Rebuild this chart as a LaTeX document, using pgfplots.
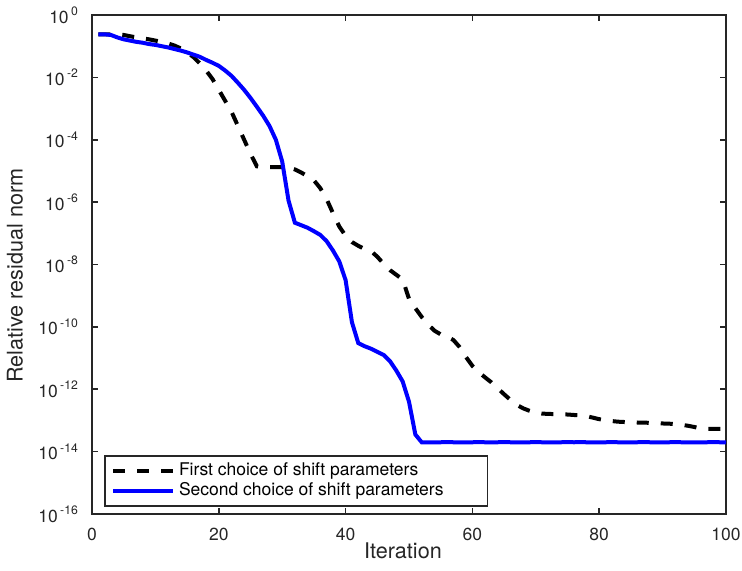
\documentclass[border=0pt]{standalone}
\usepackage{fontspec}
\setmainfont{TeX Gyre Heros}
\usepackage{pgfplots}
\pgfplotsset{compat=1.18}
\usetikzlibrary{calc}
\definecolor{axgray}{gray}{0.15}
\newcommand{\tickfont}{\fontsize{8.75}{10}\selectfont}
\newcommand{\labfont}{\fontsize{10.8}{12}\selectfont}

\begin{document}
\begin{tikzpicture}
\begin{axis}[
    name=ax,
    ymode=log,
    scale only axis,
    width=317pt, height=249.5pt,
    xmin=0, xmax=100,
    ymin=1e-16, ymax=1,
    xtick={0,20,40,60,80,100},
    ytick={1e-16,1e-14,1e-12,1e-10,1e-8,1e-6,1e-4,1e-2,1},
    yminorticks=false,
    /pgf/number format/assume math mode=true,
    yticklabel={10\textsuperscript{\hspace{1.2pt}\pgfmathparse{int(round(\tick/2.302585093))}\pgfmathresult}},
    tick align=inside,
    major tick length=3.2pt,
    axis line style={axgray, line width=0.8pt},
    every tick/.style={axgray, line width=0.8pt},
    tick label style={font=\tickfont, text=axgray},
    xticklabel style={yshift=-3.5pt, inner xsep=0pt},
    yticklabel style={xshift=-3pt},
    xlabel={Iteration},
    ylabel={Relative residual norm},
    label style={font=\labfont, text=axgray},
    xlabel style={at={(axis description cs:0.4905,-0.0882)}, anchor=base},
    ylabel style={at={(axis description cs:-0.1095,0.4776)}, anchor=base},
    legend cell align=left,
    legend image code/.code={\draw[#1] (0pt,0pt) -- (30pt,0pt);},
    legend style={at={(0.0196,0.015)}, anchor=south west, draw=axgray,
        line width=0.6pt, font=\tickfont, inner xsep=3pt, inner ysep=1.5pt,
        row sep=-2pt},
]
\addplot[black, line width=2pt, dash pattern=on 6pt off 6pt] coordinates {
(1,2.4e-1) (2,2.4e-1) (3,2.4e-1) (4,2.4e-1) (5,2.29e-1) (6,2.09e-1) (7,1.91e-1)
(8,1.78e-1) (9,1.66e-1) (10,1.51e-1) (11,1.38e-1) (12,1.23e-1) (13,1.05e-1)
(14,8.51e-2) (15,6.31e-2) (16,4.47e-2) (17,2.82e-2) (18,1.66e-2) (19,8.91e-3)
(20,3.98e-3) (21,1.78e-3) (22,7.94e-4) (23,2.82e-4) (24,1.0e-4) (25,3.55e-5)
(26,1.41e-5) (27,1.32e-5) (28,1.32e-5) (29,1.32e-5) (30,1.32e-5) (31,1.29e-5)
(32,1.12e-5) (33,8.91e-6) (34,6.76e-6) (35,5.01e-6) (36,2.82e-6) (37,1.26e-6)
(38,4.47e-7) (39,1.66e-7) (40,8.32e-8) (41,5.25e-8) (42,3.98e-8) (43,3.16e-8)
(44,2.69e-8) (45,1.78e-8) (46,1.05e-8) (47,6.61e-9) (48,4.68e-9) (49,3.31e-9)
(50,7.94e-10) (51,3.98e-10) (52,2.09e-10) (53,1.20e-10) (54,7.59e-11)
(55,5.75e-11) (56,4.90e-11) (57,3.80e-11) (58,2.24e-11) (59,1.07e-11)
(60,5.62e-12) (61,3.55e-12) (62,2.40e-12) (63,1.66e-12) (64,1.07e-12)
(65,6.92e-13) (66,4.57e-13) (67,3.16e-13) (68,2.45e-13) (69,2.04e-13)
(70,1.78e-13) (71,1.66e-13) (72,1.62e-13) (73,1.60e-13) (74,1.58e-13)
(75,1.55e-13) (76,1.50e-13) (77,1.45e-13) (78,1.38e-13) (79,1.23e-13)
(80,1.10e-13) (81,1.02e-13) (82,9.55e-14) (83,9.12e-14) (84,8.91e-14)
(85,8.71e-14) (86,8.6e-14) (87,8.5e-14) (88,8.4e-14) (89,8.2e-14) (90,8.0e-14)
(91,7.9e-14) (92,7.59e-14) (93,7.24e-14) (94,6.76e-14) (95,6.17e-14)
(96,5.50e-14) (97,5.37e-14) (98,5.37e-14) (99,5.37e-14) (100,5.37e-14)
};
\addlegendentry{First choice of shift parameters}
\addplot[blue, line width=2pt] coordinates {
(1,2.4e-1) (2,2.4e-1) (3,2.29e-1) (4,1.91e-1) (5,1.66e-1) (6,1.51e-1) (7,1.38e-1)
(8,1.29e-1) (9,1.17e-1) (10,1.10e-1) (11,1.00e-1) (12,9.12e-2) (13,8.13e-2)
(14,7.24e-2) (15,6.31e-2) (16,5.37e-2) (17,4.57e-2) (18,3.63e-2) (19,2.95e-2)
(20,2.34e-2) (21,1.66e-2) (22,1.12e-2) (23,6.76e-3) (24,3.98e-3) (25,2.19e-3)
(26,1.15e-3) (27,5.89e-4) (28,2.75e-4) (29,1.0e-4) (30,2.0e-5) (31,1.12e-6)
(32,2.19e-7) (33,1.82e-7) (34,1.51e-7) (35,1.17e-7) (36,8.91e-8) (37,5.62e-8)
(38,2.82e-8) (39,1.26e-8) (40,3.16e-9) (41,1.41e-10) (42,3.02e-11)
(43,2.40e-11) (44,2.0e-11) (45,1.58e-11) (46,1.26e-11) (47,7.94e-12)
(48,3.98e-12) (49,1.78e-12) (50,3.98e-13) (51,3.55e-14) (52,2.0e-14)
(53,2.0e-14) (54,1.98e-14) (55,2.0e-14) (56,2.02e-14) (57,2.0e-14) (58,1.99e-14)
(59,2.0e-14) (60,2.0e-14) (61,2.01e-14) (62,2.0e-14) (63,1.98e-14) (64,2.0e-14)
(65,2.02e-14) (66,2.0e-14) (67,2.0e-14) (68,1.99e-14) (69,2.0e-14) (70,2.01e-14)
(71,2.0e-14) (72,2.0e-14) (73,1.99e-14) (74,2.0e-14) (75,2.02e-14) (76,2.0e-14)
(77,2.01e-14) (78,2.0e-14) (79,1.99e-14) (80,2.0e-14) (81,2.0e-14) (82,2.01e-14)
(83,2.0e-14) (84,1.99e-14) (85,2.0e-14) (86,2.0e-14) (87,2.02e-14) (88,2.0e-14)
(89,2.0e-14) (90,1.99e-14) (91,2.0e-14) (92,2.01e-14) (93,2.0e-14) (94,2.0e-14)
(95,1.99e-14) (96,2.0e-14) (97,2.0e-14) (98,2.02e-14) (99,2.0e-14) (100,1.98e-14)
};
\addlegendentry{Second choice of shift parameters\rule{17pt}{0pt}}
\end{axis}
\path ($(ax.south west)+(-46pt,-28pt)$) rectangle ($(ax.north east)+(8pt,7.5pt)$);
\end{tikzpicture}
\end{document}
